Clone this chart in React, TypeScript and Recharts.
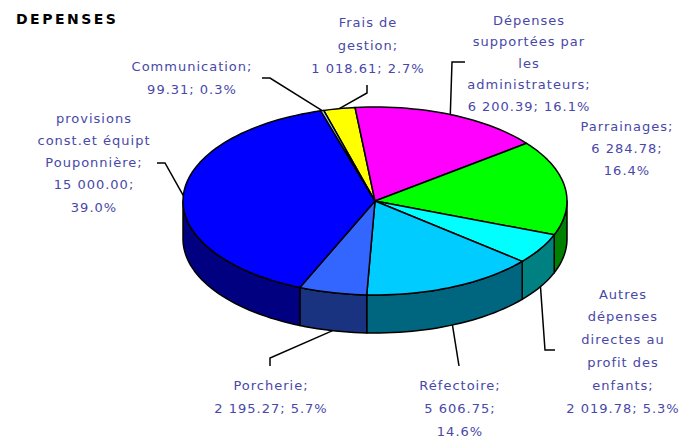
import { PieChart, Pie, Cell } from 'recharts';

const categories = [
    'Frais de gestion',
    'Dépenses supportées par les administrateurs',
    'Parrainages',
    'Autres dépenses directes au profit des enfants',
    'Réfectoire',
    'Porcherie',
    'provisions const.et équipt Pouponnière',
    'Communication',
];
const amounts = [1018.61, 6200.39, 6284.78, 2019.78, 5606.75, 2195.27, 15000.0, 99.31];
const colors = ['#FFFF00', '#FF00FF', '#00FF00', '#00FFFF', '#00CCFF', '#3366FF', '#0000FF', '#99CCFF'];

const pieData = categories.map((name, i) => ({ name, value: amounts[i] }));

// label placement (layout only)
type LabelBox = { x: number; y: number; wrap: number; gap: number; line: number[][] | null };
const labelBoxes: LabelBox[] = [
    { x: 368, y: 22, wrap: 14, gap: 23, line: [[367, 93], [367, 85]] },
    { x: 529, y: 20, wrap: 16, gap: 21.5, line: [[452, 62], [465, 62]] },
    { x: 627, y: 126, wrap: 12, gap: 22, line: null },
    { x: 623, y: 294, wrap: 14, gap: 22.8, line: [[545, 350], [555, 350]] },
    { x: 460, y: 385.5, wrap: 11, gap: 23, line: [[459, 366]] },
    { x: 271, y: 385.5, wrap: 14, gap: 22.5, line: [[270, 358], [270, 366]] },
    { x: 94, y: 118, wrap: 15, gap: 22.3, line: [[165, 163], [157, 163]] },
    { x: 192, y: 66, wrap: 14, gap: 23, line: [[270, 78], [262, 78]] },
];

const RX = 192;
const RY = 94;
const DEPTH = 38;
const TEXT_COLOR = '#4848A8';
const FONT = '"DejaVu Sans", Verdana, sans-serif';

const RAD = Math.PI / 180;

const darken = (hex: string) => {
    const n = parseInt(hex.slice(1), 16);
    const r = Math.round(((n >> 16) & 255) / 2);
    const g = Math.round(((n >> 8) & 255) / 2);
    const b = Math.round((n & 255) / 2);
    return `rgb(${r},${g},${b})`;
};

const fmt = (v: number) => {
    const [int, dec] = v.toFixed(2).split('.');
    const grouped = int.replace(/\B(?=(\d{3})+(?!\d))/g, '\u00A0');
    return `${grouped}.${dec}`;
};

const wrapText = (text: string, max: number) => {
    const words = text.split(' ');
    const lines: string[] = [];
    let cur = '';
    words.forEach(w => {
        if (!cur) cur = w;
        else if ((cur + ' ' + w).length <= max) cur = cur + ' ' + w;
        else {
            lines.push(cur);
            cur = w;
        }
    });
    if (cur) lines.push(cur);
    return lines;
};

const arcPoints = (cx: number, cy: number, a1: number, a2: number, dy = 0) => {
    const steps = Math.max(2, Math.ceil(Math.abs(a2 - a1) / 2));
    const pts: string[] = [];
    for (let k = 0; k <= steps; k++) {
        const a = (a1 + ((a2 - a1) * k) / steps) * RAD;
        pts.push(`${(cx + RX * Math.cos(a)).toFixed(2)},${(cy - RY * Math.sin(a) + dy).toFixed(2)}`);
    }
    return pts;
};

const Slice3D = (props: any) => {
    const { cx, cy, startAngle, endAngle, fill } = props;
    const lo = Math.min(startAngle, endAngle);
    const hi = Math.max(startAngle, endAngle);
    const walls: string[] = [];
    [[-540, -360], [-180, 0], [180, 360]].forEach(([f1, f2]) => {
        const a = Math.max(lo, f1);
        const b = Math.min(hi, f2);
        if (b > a) {
            const top = arcPoints(cx, cy, a, b);
            const bottom = arcPoints(cx, cy, b, a, DEPTH);
            walls.push(`M${top.join(' L')} L${bottom.join(' L')} Z`);
        }
    });
    const topPath = `M${cx},${cy} L${arcPoints(cx, cy, startAngle, endAngle).join(' L')} Z`;
    return (
        <g>
            {walls.map((d, i) => (
                <path key={i} d={d} fill={darken(fill)} stroke='#000' strokeWidth={1.5} strokeLinejoin='round' />
            ))}
            <path d={topPath} fill={fill} stroke='#000' strokeWidth={1.5} strokeLinejoin='round' />
        </g>
    );
};

const renderLabel = (props: any) => {
    const { index, midAngle, cx, cy, percent, value, name } = props;
    const box = labelBoxes[index];
    const text = `${name}; ${fmt(value)}; ${(percent * 100).toFixed(1)}%`;
    const lines = wrapText(text, box.wrap);
    const a = midAngle * RAD;
    const ax = cx + RX * Math.cos(a);
    const ay = cy - RY * Math.sin(a) + (Math.sin(a) < 0 ? DEPTH : 0);
    return (
        <g key={`lbl-${index}`}>
            {box.line && (
                <polyline
                    points={[[ax, ay], ...box.line].map(p => p.join(',')).join(' ')}
                    fill='none'
                    stroke='#000'
                    strokeWidth={1.5}
                />
            )}
            <text
                x={box.x}
                y={box.y + 4.5}
                textAnchor='middle'
                fill={TEXT_COLOR}
                fontFamily={FONT}
                fontSize={13}
                letterSpacing={1}
            >
                {lines.map((l, i) => (
                    <tspan key={i} x={box.x} y={box.y + 4.5 + i * box.gap}>
                        {l}
                    </tspan>
                ))}
            </text>
        </g>
    );
};

export default function App() {
    return (
        <div style={{ position: 'absolute', left: 0, top: 0, width: 687, height: 439, background: '#fff' }}>
            <PieChart width={687} height={439} margin={{ left: 0, top: 0, right: 0, bottom: 0 }}>
                <text x={16} y={24} fontFamily={FONT} fontWeight='bold' fontSize={14} letterSpacing={2.5} fill='#000'>
                    DEPENSES
                </text>
                <Pie
                    data={pieData}
                    dataKey='value'
                    nameKey='name'
                    cx={375}
                    cy={201}
                    outerRadius={RX}
                    startAngle={105.5}
                    endAngle={-254.5}
                    shape={Slice3D}
                    label={renderLabel}
                    labelLine={false}
                    isAnimationActive={false}
                >
                    {pieData.map((d, i) => (
                        <Cell key={d.name} fill={colors[i]} />
                    ))}
                </Pie>
            </PieChart>
        </div>
    );
}
